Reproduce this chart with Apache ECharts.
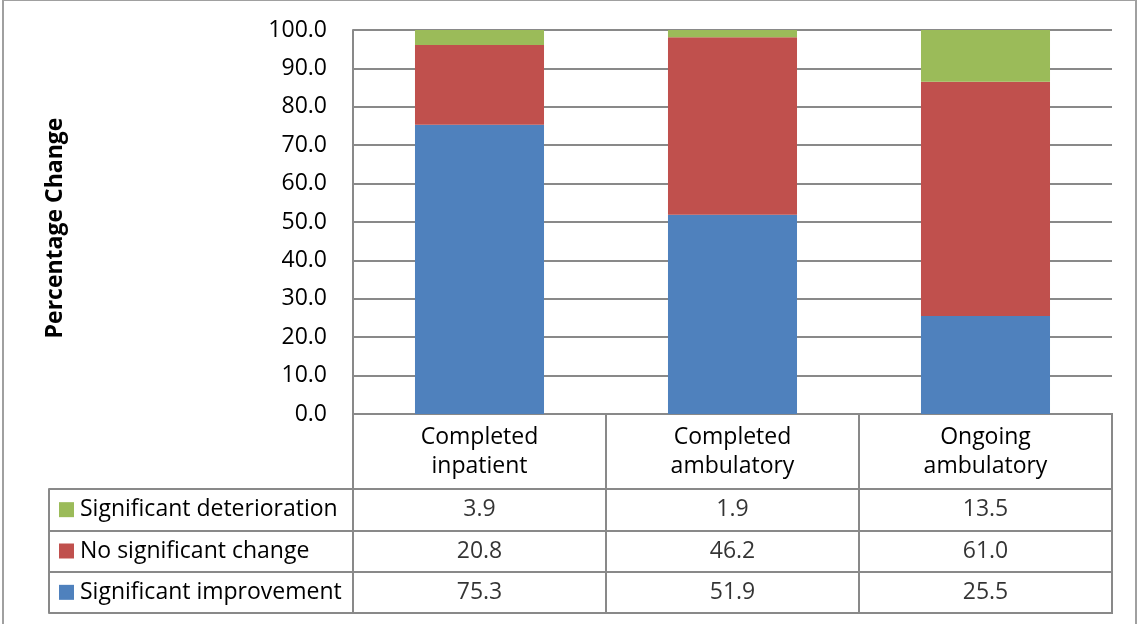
<!DOCTYPE html>
<html>
<head>
<meta charset="utf-8">
<script src="https://cdn.jsdelivr.net/npm/echarts@6/dist/echarts.min.js"></script>
<style>
  html, body { margin: 0; padding: 0; background: #fff; }
  #chart { width: 1140px; height: 624px; }
</style>
</head>
<body>
<div id="chart"></div>
<script>
// categories and series (percentages)
var categories = ['Completed\ninpatient', 'Completed\nambulatory', 'Ongoing\nambulatory'];
var improvement = [75.3, 51.9, 25.5];
var noChange = [20.8, 46.2, 61.0];
var deterioration = [3.9, 1.9, 13.5];
var rowNames = ['Significant deterioration', 'No significant change', 'Significant improvement'];
var rowColors = ['#9BBB59', '#C0504D', '#4F81BD'];
var yTicks = [0, 10, 20, 30, 40, 50, 60, 70, 80, 90, 100];

var FONT = 'Open Sans';
var FS = 23;
var LINE = '#898989';

var rowValues = [deterioration, noChange, improvement];

// cells of the data table
var cells = [];
rowValues.forEach(function (vals, r) {
  vals.forEach(function (v, c) {
    cells.push([categories[c], rowNames[r], v]);
  });
});

var chart = echarts.init(document.getElementById('chart'));

var option = {
  animation: false,
  textStyle: { fontFamily: FONT },
  graphic: [{
    type: 'rect',
    shape: { x: 3, y: 0, width: 1133, height: 660 },
    style: { fill: 'none', stroke: '#a0a0a0', lineWidth: 2 },
    silent: true
  }],
  grid: [
    { left: 353, top: 30, width: 759, height: 384 },
    { left: 353, top: 414, width: 759, height: 199, show: true, borderColor: LINE, borderWidth: 2 },
    { left: 353, top: 489, width: 759, height: 124, show: true, borderColor: LINE, borderWidth: 2 }
  ],
  xAxis: [
    {
      gridIndex: 0, type: 'category', data: categories,
      axisLine: { lineStyle: { color: LINE, width: 2 } },
      axisTick: { show: false },
      axisLabel: { color: '#000', fontSize: FS, lineHeight: 29, margin: 9, interval: 0 }
    },
    {
      gridIndex: 1, type: 'category', data: categories,
      axisLine: { show: false }, axisTick: { show: false }, axisLabel: { show: false },
      splitLine: { show: true, lineStyle: { color: LINE, width: 2 } }
    },
    {
      gridIndex: 2, type: 'category', data: categories,
      axisLine: { show: false }, axisTick: { show: false }, axisLabel: { show: false },
      splitLine: { show: false }
    }
  ],
  yAxis: [
    {
      gridIndex: 0, type: 'value', min: 0, max: 100, interval: 10,
      name: 'Percentage Change', nameLocation: 'middle', nameRotate: 90, nameGap: 286,
      nameTextStyle: { color: '#000', fontSize: FS, fontWeight: 'bold', padding: [0, 12, 0, 0] },
      axisLine: { show: true, lineStyle: { color: LINE, width: 2 } },
      axisTick: { show: false },
      axisLabel: {
        color: '#000', fontSize: FS, margin: 26,
        formatter: function (v) { return yTicks.indexOf(v) >= 0 ? v.toFixed(1) : ''; }
      },
      splitLine: { lineStyle: { color: LINE, width: 2 } }
    },
    {
      gridIndex: 1, type: 'value', show: false
    },
    {
      gridIndex: 2, type: 'category', data: rowNames, inverse: true,
      axisLine: { show: true, lineStyle: { color: LINE, width: 2 } },
      axisTick: { show: true, inside: false, length: 304, lineStyle: { color: LINE, width: 2 } },
      splitLine: { show: true, lineStyle: { color: LINE, width: 2 } },
      axisLabel: {
        align: 'left', margin: 294, color: '#000', fontSize: FS,
        formatter: function (v, i) { return '{s' + i + '|}{t|' + v + '}'; },
        rich: {
          s0: { backgroundColor: rowColors[0], width: 15, height: 15 },
          s1: { backgroundColor: rowColors[1], width: 15, height: 15 },
          s2: { backgroundColor: rowColors[2], width: 15, height: 15 },
          t: { color: '#000', fontSize: FS, fontFamily: FONT, padding: [0, 0, 0, 6] }
        }
      }
    },
    {
      gridIndex: 2, type: 'category', data: rowNames, inverse: true,
      position: 'left', offset: 304,
      axisLine: { show: true, lineStyle: { color: LINE, width: 2 } },
      axisTick: { show: false }, axisLabel: { show: false }, splitLine: { show: false }
    }
  ],
  series: [
    {
      name: rowNames[2], type: 'bar', stack: 'total', data: improvement,
      xAxisIndex: 0, yAxisIndex: 0, barWidth: '51%',
      itemStyle: { color: rowColors[2] }
    },
    {
      name: rowNames[1], type: 'bar', stack: 'total', data: noChange,
      xAxisIndex: 0, yAxisIndex: 0, barWidth: '51%',
      itemStyle: { color: rowColors[1] }
    },
    {
      name: rowNames[0], type: 'bar', stack: 'total', data: deterioration,
      xAxisIndex: 0, yAxisIndex: 0, barWidth: '51%',
      itemStyle: { color: rowColors[0] }
    },
    {
      type: 'scatter', xAxisIndex: 2, yAxisIndex: 2, data: cells,
      symbolSize: 0, itemStyle: { color: 'transparent' },
      label: {
        show: true, position: 'inside', color: '#000', fontSize: FS,
        formatter: function (p) { return p.value[2].toFixed(1); }
      }
    }
  ]
};

chart.setOption(option);
</script>
</body>
</html>
